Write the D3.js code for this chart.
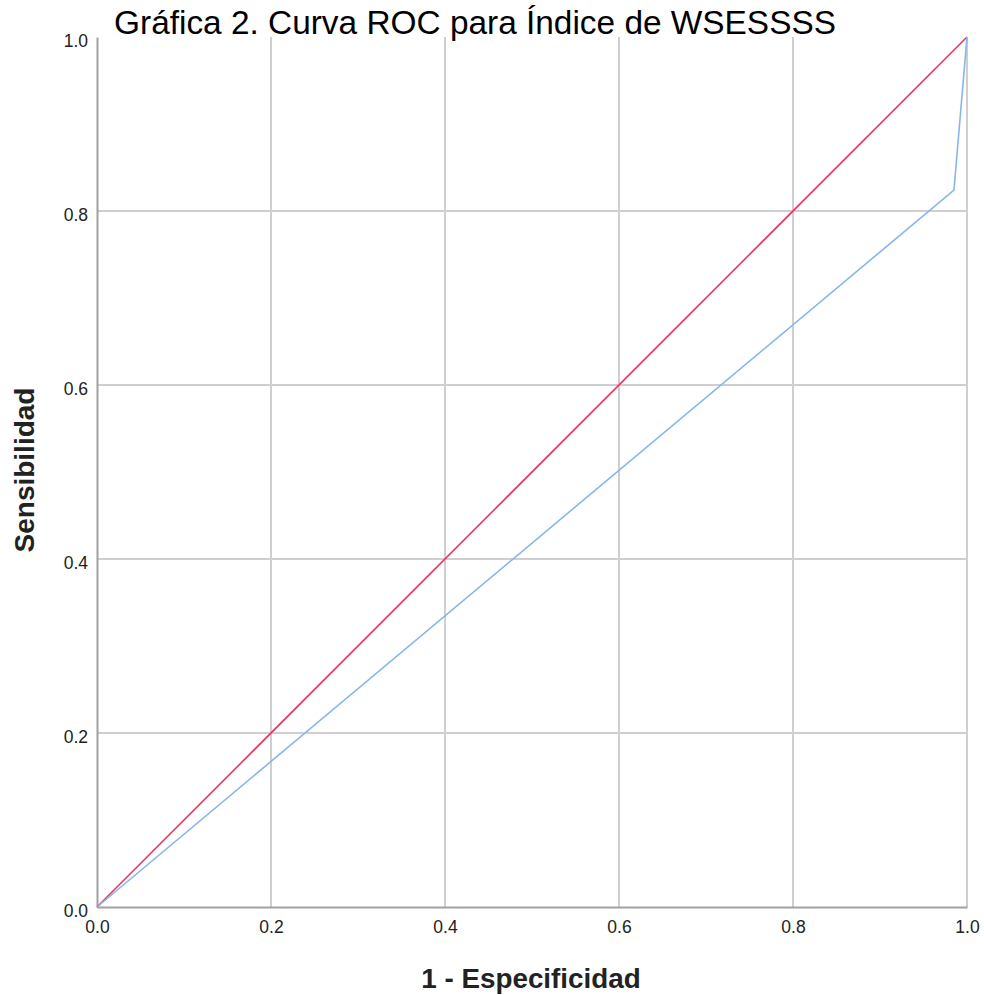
<!DOCTYPE html>
<html><head><meta charset="utf-8">
<script src="https://cdn.jsdelivr.net/npm/d3@7"></script>
<style>body{margin:0;background:#fff}svg{display:block}</style>
</head><body>
<svg id="c" width="984" height="995"></svg>
<script>
const titleText = "Gráfica 2. Curva ROC para Índice de WSESSSS";
const xLabel = "1 - Especificidad";
const yLabel = "Sensibilidad";
const tickValues = [0, 0.2, 0.4, 0.6, 0.8, 1.0];
const rocX = [0, 0.985, 1.0];
const rocY = [0, 0.824, 1.0];
const refX = [0, 1];
const refY = [0, 1];

const svg = d3.select("#c");
const L = 97, R = 967, T = 37, B = 907;
const x = d3.scaleLinear().domain([0, 1]).range([L, R]);
const y = d3.scaleLinear().domain([0, 1]).range([B, T]);
const FONT = "Liberation Sans, Arial, sans-serif";

// gridlines
svg.append("g").selectAll("line").data(tickValues.filter(d => d > 0)).join("line")
  .attr("x1", d => x(d)).attr("x2", d => x(d)).attr("y1", T).attr("y2", B)
  .attr("stroke", "#cfcfcf").attr("stroke-width", 2);
svg.append("g").selectAll("line").data(tickValues.filter(d => d > 0 && d < 1)).join("line")
  .attr("x1", L).attr("x2", R).attr("y1", d => y(d)).attr("y2", d => y(d))
  .attr("stroke", "#cfcfcf").attr("stroke-width", 2);

// axes
const xAxis = d3.axisBottom(x).tickValues(tickValues).tickFormat(d3.format(".1f")).tickSize(0).tickPadding(14);
const yAxis = d3.axisLeft(y).tickValues(tickValues).tickFormat(d3.format(".1f")).tickSize(0).tickPadding(9);
const gx = svg.append("g").attr("transform", `translate(0,${B})`).call(xAxis);
const gy = svg.append("g").attr("transform", `translate(${L},0)`).call(yAxis);
[gx, gy].forEach(g => {
  g.select(".domain").attr("stroke", "#a0a0a0").attr("stroke-width", 2);
  g.selectAll("text").attr("font-family", FONT).attr("font-size", 17.5).attr("fill", "#222");
});
gy.selectAll(".tick text").attr("dy", "0.55em");

const line = d3.line().x(d => x(d[0])).y(d => y(d[1]));
svg.append("path").datum(refX.map((v, i) => [v, refY[i]])).attr("d", line)
  .attr("fill", "none").attr("stroke", "#e5385f").attr("stroke-width", 1.6);
svg.append("path").datum(rocX.map((v, i) => [v, rocY[i]])).attr("d", line)
  .attr("fill", "none").attr("stroke", "#86b6ee").attr("stroke-width", 1.6);

svg.append("text").attr("x", 475).attr("y", 34).attr("text-anchor", "middle")
  .attr("font-family", FONT).attr("font-size", 33.4).attr("fill", "#000").text(titleText);
svg.append("text").attr("x", 531).attr("y", 988).attr("text-anchor", "middle")
  .attr("font-family", FONT).attr("font-weight", "bold").attr("font-size", 27.8).attr("fill", "#222").text(xLabel);
svg.append("text").attr("transform", `translate(34,470) rotate(-90)`).attr("text-anchor", "middle")
  .attr("font-family", FONT).attr("font-weight", "bold").attr("font-size", 28).attr("fill", "#222").text(yLabel);
</script>
</body></html>
